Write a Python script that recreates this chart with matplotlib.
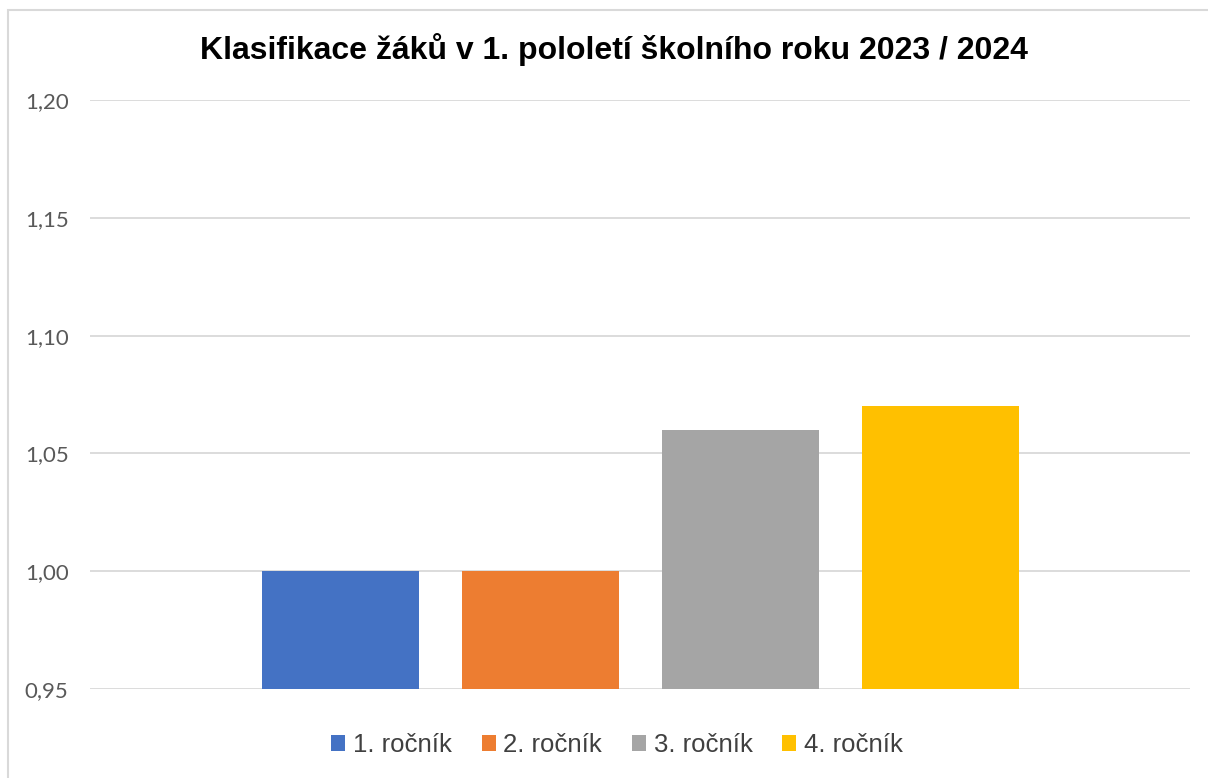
import matplotlib.pyplot as plt
from matplotlib.patches import Rectangle, Patch
from matplotlib.ticker import FuncFormatter

# data
rocniky = ['1. ročník', '2. ročník', '3. ročník', '4. ročník']
prumery = [1.00, 1.00, 1.06, 1.07]
barvy = ['#4472C4', '#ED7D31', '#A5A5A5', '#FFC000']
y_ticks = [0.95, 1.00, 1.05, 1.10, 1.15, 1.20]

fig = plt.figure(figsize=(12.08, 7.78), dpi=100)

# ramecek grafu
fig.patches.append(Rectangle((8 / 1208, -0.01), 1.2, 1 - 10 / 778 + 0.01,
                             transform=fig.transFigure, fill=False,
                             edgecolor='#D9D9D9', linewidth=1.5))

ax = fig.add_axes([90 / 1208, 1 - 689 / 778, 1100 / 1208, (689 - 100) / 778])

pozice = list(range(len(rocniky)))
ax.bar(pozice, [p - 0.95 for p in prumery], bottom=0.95, width=0.785,
       color=barvy, zorder=3)

ax.set_xlim(-1.25, 4.25)
ax.set_ylim(0.95, 1.20)
ax.set_yticks(y_ticks)
ax.yaxis.set_major_formatter(FuncFormatter(lambda v, p: f'{v:.2f}'.replace('.', ',')))
ax.set_xticks([])
ax.grid(axis='y', color='#D9D9D9', linewidth=1.3, zorder=0)
for s in ax.spines.values():
    s.set_visible(False)
ax.tick_params(axis='y', length=0, pad=15.5, labelsize=16, labelcolor='#595959')
for lab in ax.get_yticklabels():
    lab.set_family('Lato')

fig.text(614 / 1208, 1 - 50 / 778, 'Klasifikace žáků v 1. pololetí školního roku 2023 / 2024',
         ha='center', va='center', fontsize=23, fontweight='bold',
         family='Liberation Sans', color='#000000')

handles = [Patch(facecolor=c, edgecolor='none') for c in barvy]
fig.legend(handles, rocniky, loc='center', bbox_to_anchor=(617 / 1208, 1 - 745 / 778),
           ncol=4, frameon=False, prop={'family': 'Liberation Sans', 'size': 18.5},
           handlelength=0.55, handleheight=0.55, handletextpad=0.3, columnspacing=1.15,
           labelcolor='#404040')

fig.savefig('out.png', dpi=100)
